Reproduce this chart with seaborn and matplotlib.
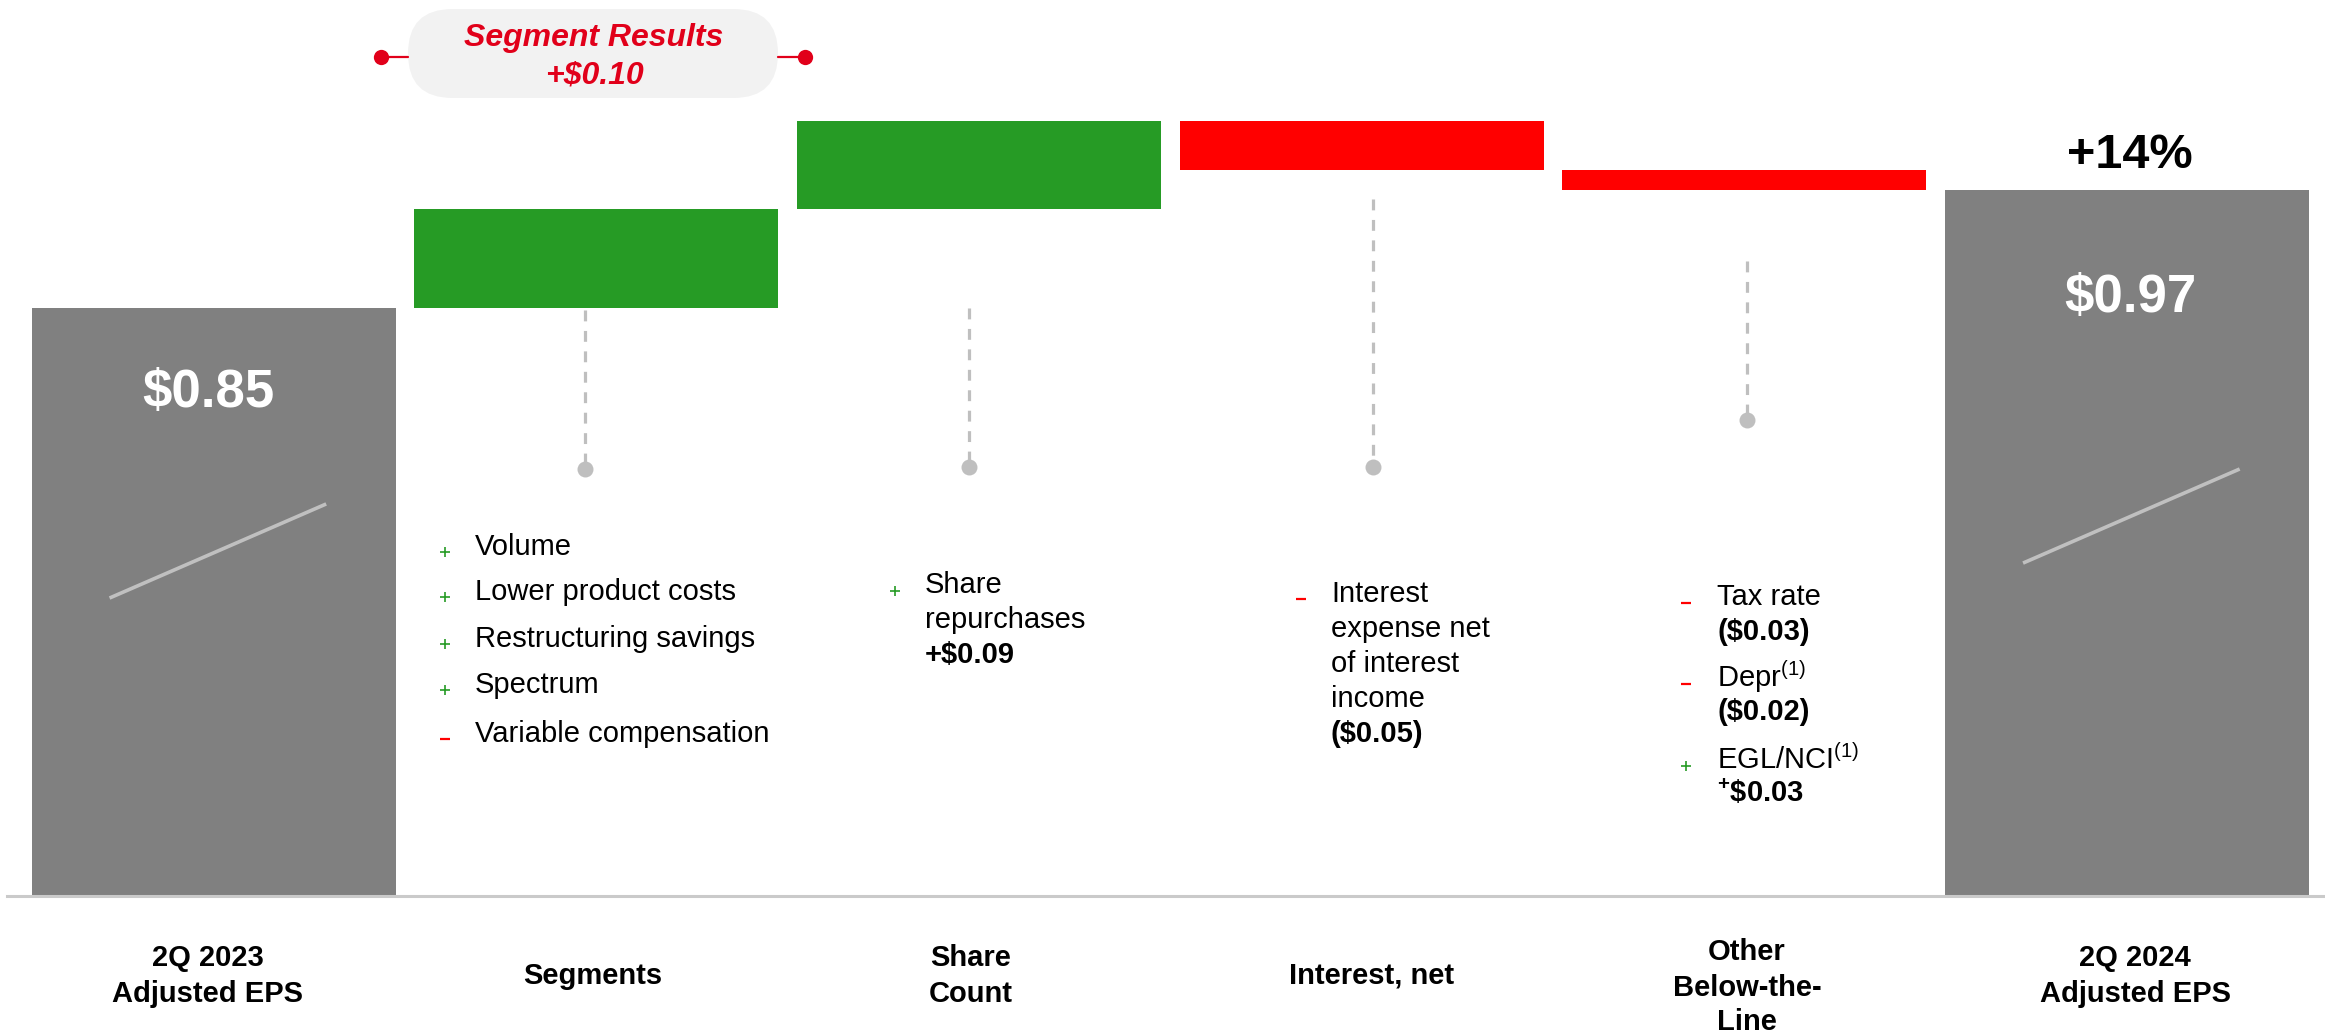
import numpy as np
import pandas as pd
import matplotlib
matplotlib.use("Agg")
import matplotlib.pyplot as plt
from matplotlib.patches import FancyBboxPatch
from matplotlib.lines import Line2D
import seaborn as sns

# ---------------- data ----------------
categories = ["2Q 2023\nAdjusted EPS", "Segments", "Share\nCount", "Interest, net",
              "Other\nBelow-the-\nLine", "2Q 2024\nAdjusted EPS"]
start_eps = 0.85
deltas = [0.10, 0.09, -0.05, -0.02]
end_eps = 0.97
start_label = "$0.85"
end_label = "$0.97"
growth_label = "+14%"
segment_title = "Segment Results"
segment_total = "+$0.10"

seg_drivers = ["Volume", "Lower product costs", "Restructuring savings", "Spectrum",
               "Variable compensation"]
seg_signs = ["+", "+", "+", "+", "-"]
share_lines = ["Share", "repurchases"]
share_value = "+$0.09"
interest_lines = ["Interest", "expense net", "of interest", "income"]
interest_value = "($0.05)"
other_names = ["Tax rate", r"Depr$^{(1)}$", r"EGL/NCI$^{(1)}$"]
other_values = ["($0.03)", "($0.02)", r"$^{\mathbf{+}}$\$0.03"]
other_signs = ["-", "-", "+"]

# ---------------- style ----------------
sns.set_style("white")
plt.rcParams["font.family"] = ["Liberation Sans", "DejaVu Sans"]
plt.rcParams["mathtext.fontset"] = "custom"
plt.rcParams["mathtext.rm"] = "Liberation Sans"
plt.rcParams["mathtext.it"] = "Liberation Sans:italic"
plt.rcParams["mathtext.bf"] = "Liberation Sans:bold"

GREY = "#808080"
GREEN = "#269B25"
RED = "#FF0000"
PILL_RED = "#E1001A"
LIGHT = "#BFBFBF"

# waterfall geometry from data
levels = [start_eps]
for d in deltas:
    levels.append(levels[-1] + d)
heights = [start_eps] + [abs(d) for d in deltas] + [end_eps]
bottoms = [0.0] + [min(levels[i], levels[i + 1]) for i in range(len(deltas))] + [0.0]
colors = [GREY] + [GREEN if d > 0 else RED for d in deltas] + [GREY]

df = pd.DataFrame({"cat": categories, "height": heights})

W, H = 2325, 1035
fig = plt.figure(figsize=(W / 100, H / 100), dpi=100)
ax = fig.add_axes([7 / W, 139 / H, (W - 7) / W, 896 / H])

sns.barplot(data=df, x="cat", y="height", hue="cat", order=categories,
            hue_order=categories, palette=colors, width=0.951, saturation=1,
            legend=False, ax=ax, linewidth=0)
for patch, b in zip(ax.patches, bottoms):
    patch.set_y(b)

ax.set_xlim(-0.540, 5.517)
ax.set_ylim(0.253, 0.253 + 896 / 985)
ax.set_xticks([])
ax.set_yticks([])
ax.set_xlabel("")
ax.set_ylabel("")
for s in ["top", "right", "left"]:
    ax.spines[s].set_visible(False)
ax.spines["bottom"].set_color("#CACACA")
ax.spines["bottom"].set_linewidth(2.2)

# axis-break diagonals on total bars
breaks = [(0, 0.5555, 0.651), (len(categories) - 1, 0.591, 0.6865)]
for i, ya, yb in breaks:
    ax.plot([i - 0.272, i + 0.294], [ya, yb],
            color="#C0C0C0", lw=2.6, solid_capstyle="butt", zorder=3)

# dashed connectors to driver notes (data coords)
conn = [(1 - 0.030, 0.848, 0.6865), (2 - 0.026, 0.850, 0.6885),
        (3 + 0.029, 0.9606, 0.6885), (4 + 0.007, 0.8977, 0.7362)]
for x, y0, y1 in conn:
    ax.plot([x, x], [y0, y1 + 0.006], color=LIGHT, lw=2.3,
            linestyle=(0, (3.4, 3.0)), dash_capstyle="butt", clip_on=False, zorder=3)
    ax.plot([x], [y1], marker="o", ms=11.5, color=LIGHT, mec="none", clip_on=False, zorder=4)

# ---------------- helpers in pixel coords ----------------
T = fig.dpi_scale_trans


def P(x, y):
    return x / 100, (H - y) / 100


def txt(x, y, s, **kw):
    xx, yy = P(x, y)
    kw.setdefault("va", "baseline")
    kw.setdefault("color", "black")
    fig.text(xx, yy, s, transform=T, **kw)


def bullet(x, y, sign):
    xx, yy = P(x, y)
    if sign == "+":
        fig.add_artist(Line2D([xx], [yy], marker="+", ms=7.5, mew=1.2, color=GREEN,
                              transform=T))
    else:
        fig.add_artist(Line2D([xx], [yy], marker="_", ms=7.5, mew=1.6, color=RED,
                              transform=T))


# value labels
txt(208, 407, start_label, ha="center", color="white", fontsize=38, fontweight="bold")
txt(2130, 312, end_label, ha="center", color="white", fontsize=38, fontweight="bold")
txt(2130, 168, growth_label, ha="center", fontsize=35, fontweight="bold")

# segment results pill
x0, y0 = P(408, 98)
pill = FancyBboxPatch((x0, y0), 3.70, 0.89, boxstyle="round,pad=0,rounding_size=0.445",
                      transform=T, fc="#F2F2F2", ec="none")
fig.add_artist(pill)
for xa, xb in [(381, 408), (778, 805)]:
    (ax1, ay), (bx1, _) = P(xa, 57), P(xb, 57)
    fig.add_artist(Line2D([ax1, bx1], [ay, ay], color=PILL_RED, lw=1.6, transform=T))
for xd in [381, 805]:
    dx, dy = P(xd, 57)
    fig.add_artist(Line2D([dx], [dy], marker="o", ms=11, color=PILL_RED, mec="none",
                          transform=T))
txt(594, 46, segment_title, ha="center", color=PILL_RED, fontsize=23,
    fontweight="bold", fontstyle="italic")
txt(594, 83, segment_total, ha="center", color=PILL_RED, fontsize=23,
    fontweight="bold", fontstyle="italic")

FS = 21
# segments drivers
seg_base = [555, 600, 647, 693, 742]
for s, sign, yb in zip(seg_drivers, seg_signs, seg_base):
    txt(475, yb, s, fontsize=FS)
    bullet(445, yb - 3, sign)

# share count
for s, yb in zip(share_lines, [593, 628]):
    txt(925, yb, s, fontsize=FS)
txt(925, 663, share_value, fontsize=FS, fontweight="bold")
bullet(895, 591, "+")

# interest
for s, yb in zip(interest_lines, [602, 637, 672, 707]):
    txt(1331, yb, s, fontsize=FS)
txt(1331, 742, interest_value, fontsize=FS, fontweight="bold")
bullet(1301, 599, "-")

# other below-the-line
name_base = [605, 687, 769]
val_base = [640, 720, 802]
bul_y = [603, 684, 766]
for n, v, sg, yn, yv, yb in zip(other_names, other_values, other_signs, name_base, val_base, bul_y):
    txt(1717, yn, n, fontsize=FS)
    txt(1717, yv, v, fontsize=FS, fontweight="bold")
    bullet(1686, yb, sg)

# category labels under the axis
label_x = [208, 593, 971, 1372, 1747, 2135]
step = 35
for lab, xc in zip(categories, label_x):
    lines = lab.split("\n")
    n = len(lines)
    center = 985 if n == 3 else 973.5
    first = center - step * (n - 1) / 2
    for k, line in enumerate(lines):
        txt(xc, first + k * step + 10.5, line, ha="center", fontsize=21, fontweight="bold")

fig.savefig("out.png", dpi=100)
